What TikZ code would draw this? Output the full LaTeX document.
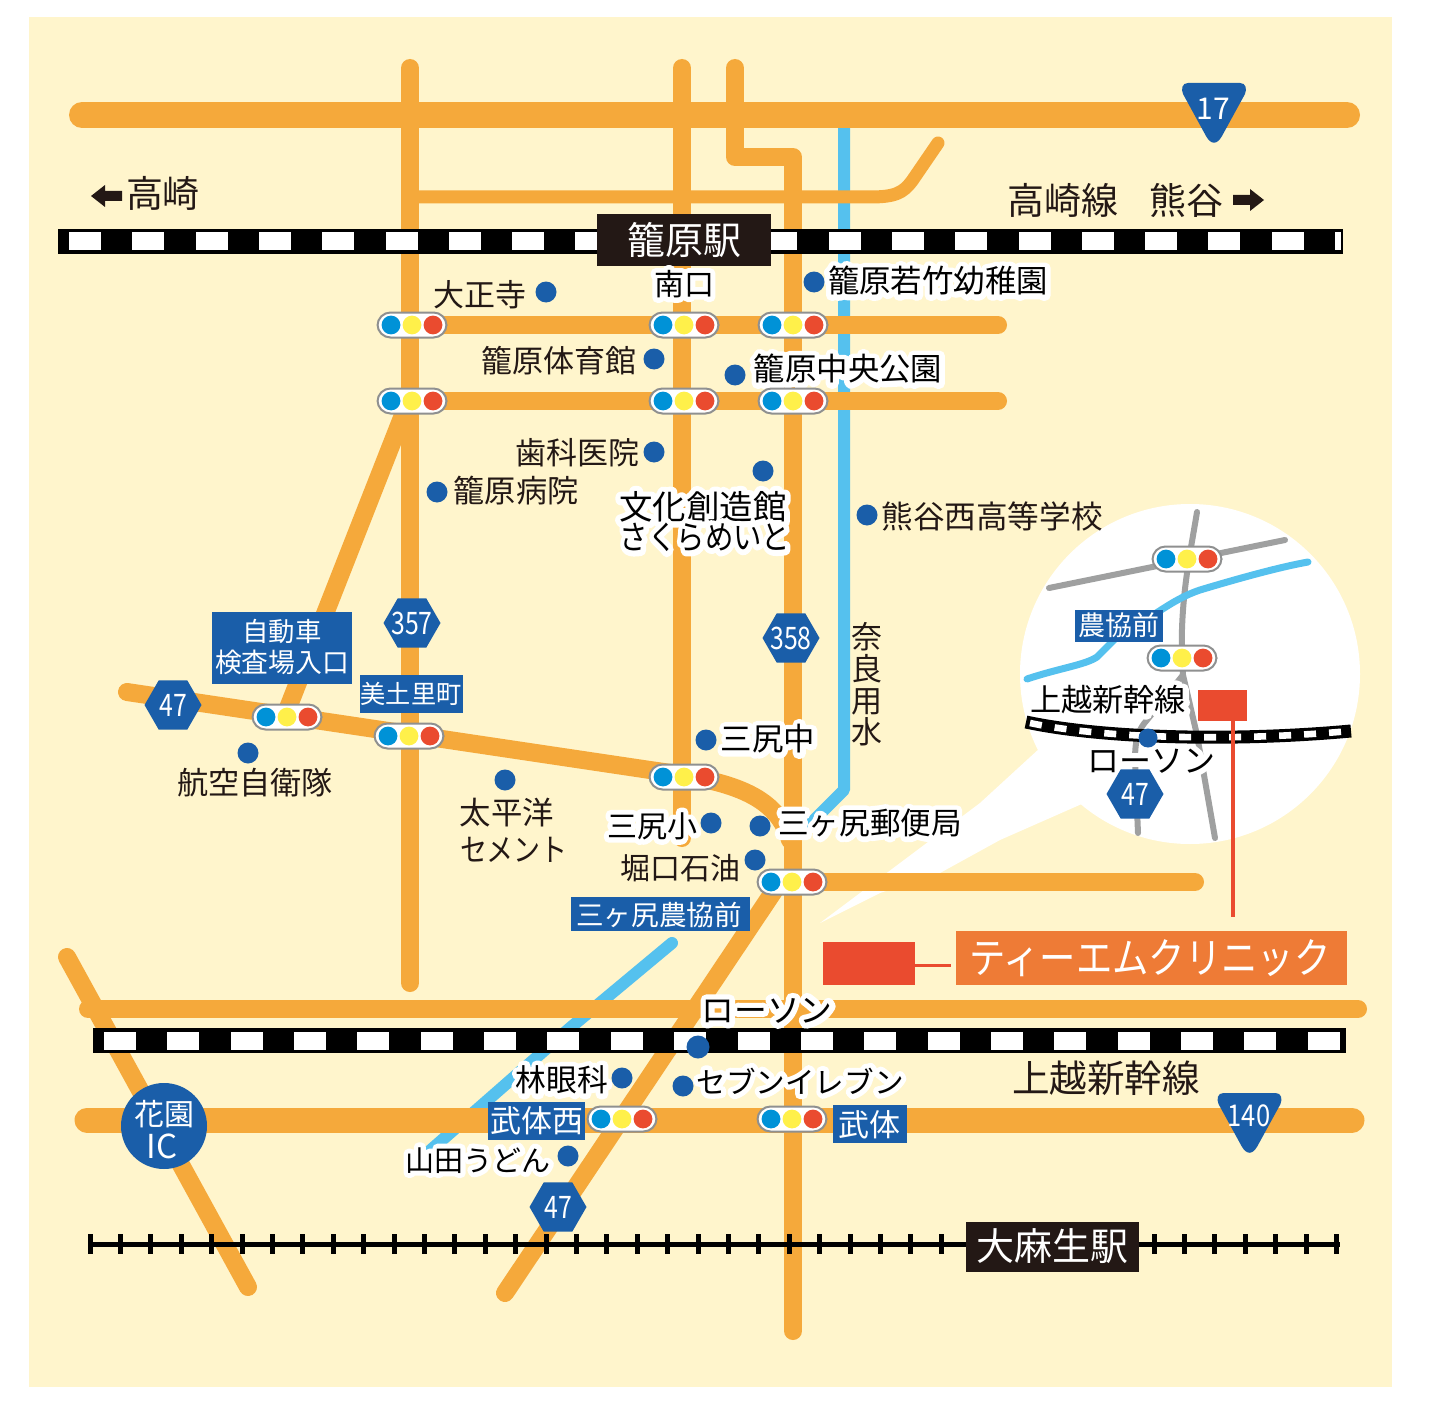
\documentclass[tikz,border=0pt]{standalone}
\usepackage{fontspec}
\usetikzlibrary{shapes.geometric}
\newfontfamily\jp{Noto Sans CJK JP}
\newfontfamily\jph[FakeBold=34]{Noto Sans CJK JP}
\definecolor{cream}{HTML}{FFF5CC}
\definecolor{road}{HTML}{F5A93B}
\definecolor{water}{HTML}{55C1EE}
\definecolor{ink}{HTML}{231815}
\definecolor{dotblue}{HTML}{1A5EA9}
\definecolor{lampb}{HTML}{0092D7}
\definecolor{lampy}{HTML}{FFF04A}
\definecolor{lampr}{HTML}{EA4B2F}
\definecolor{grayroad}{HTML}{9FA0A0}
\definecolor{clinic}{HTML}{EE7B36}
\newcommand\strutj{\rule[-.12em]{0pt}{1em}}
\newcommand\fs[1]{\fontsize{#1}{#1}\selectfont\jp}
% plain label: name, position, size in pt, text
\newcommand\LabP[4]{\node[lbl] (#1) at (#2) {\fs{#3}\strutj #4};}
% label with a white halo
\newcommand\LabH[4]{\node[lbl,text=black] (#1) at (#2) {\fs{#3}\strutj\special{pdf:code 1 j 1 J}\rlap{\color{white}\jph #4}#4};}
% white label on a coloured box
\newcommand\LabW[4]{\node[lbl,text=white] (#1) at (#2) {\fs{#3}\strutj #4};}
\newcommand\dotm[2]{\node[place] (#1) at (#2) {};}
\newcommand\light[2]{%
  \node[pill] (#1) at (#2) {};
  \node[lamp,fill=lampb] (#1b) at ([xshift=-10.5pt]#1) {};
  \node[lamp,fill=lampy] (#1y) at (#1) {};
  \node[lamp,fill=lampr] (#1r) at ([xshift=10.5pt]#1) {};}
\newcommand\hexm[3]{\node[hexa] (#1) at (#2) {};\node[lbl,text=white] at (#1) {\fs{15.5}\scalebox{.8}[1]{#3}};}
\newcommand\shield[2]{\fill[dotblue,shift={(#1,#2)}] (-26,0) -- (26,0) .. controls (32,0) and (33,6) .. (31,11) -- (8,53) .. controls (3,62) and (-3,62) .. (-8,53) -- (-31,11) .. controls (-33,6) and (-32,0) .. (-26,0) -- cycle;}
\tikzset{
  x=.5pt,y=-.5pt,
  lbl/.style={inner sep=0pt,outer sep=0pt,text=ink,anchor=center},
  place/.style={circle,fill=dotblue,minimum size=10.5pt,inner sep=0pt},
  pill/.style={rectangle,rounded corners=6.5pt,draw=grayroad!90!black,line width=1pt,fill=white,minimum width=34.5pt,minimum height=12.5pt,inner sep=0pt},
  lamp/.style={circle,minimum size=9.4pt,inner sep=0pt},
  hexa/.style={regular polygon,regular polygon sides=6,fill=dotblue,minimum size=28.5pt,inner sep=0pt},
  rd/.style={draw=road,line width=9pt,line cap=round,line join=round},
  wr/.style={draw=water,line width=6pt,line cap=round,line join=round},
  gr/.style={draw=grayroad,line width=3pt,line cap=round,line join=round},
  bluebox/.style={fill=dotblue},
  inkbox/.style={fill=ink},
}
\begin{document}
\begin{tikzpicture}
\useasboundingbox (0,0) rectangle (1442,1413);
\fill[white] (0,0) rectangle (1442,1413);
\fill[cream] (29,17) rectangle (1392,1387);
% inset bubble
\fill[white] (1190,674) circle (85pt);
\fill[white] (1040,748) -- (980,803) -- (820,923) -- (880,893) -- (940,873) -- (1000,840) -- (1084,803) -- cycle;
% water
\draw[wr] (844,128) -- (844,790) -- (808,826);
\draw[wr] (672,943) -- (570,1028) -- (425,1155);
% roads
\draw[rd] (410,68) -- (410,983);
\draw[rd] (682,68) -- (682,838);
\draw[rd] (735,68) -- (735,157) -- (793,157) -- (793,1331);
\draw[rd,line width=6.5pt] (415,197) -- (870,197) .. controls (895,197) and (903,193) .. (912,181) -- (938,143);
\draw[rd] (410,325) -- (998,325);
\draw[rd] (410,401) -- (998,401);
\draw[rd] (405,410) -- (288,708);
\draw[rd] (127,692) -- (650,770) .. controls (720,780) and (775,790) .. (790,840);
\draw[rd] (793,882) -- (1195,882);
\draw[rd] (780,882) -- (505,1293);
\draw[rd] (88,1009) -- (1358,1009);
\draw[rd] (67,957) -- (248,1287);
\draw[rd,line width=13pt] (82,115) -- (1347,115);
\draw[rd,line width=12.5pt] (87,1120) -- (1352,1120);
% top railway
\fill[black] (58,229) rectangle (1343,254);
\foreach \i in {0,...,20} \fill[white] ({69+63.3*\i},232.5) rectangle ({min(69+63.3*\i+32,1341)},250.5);
\fill[inkbox] (597,214) rectangle (771,266);
% bottom railway
\fill[black] (93,1028) rectangle (1346,1053);
\foreach \i in {0,...,19} \fill[white] ({104+63.35*\i},1032) rectangle +(32,18);
% thin railway
\draw[black,line width=2.5pt] (90,1244) -- (1340,1244);
\foreach \i in {0,...,41} \draw[black,line width=2.5pt] ({90+30.4*\i},1234) -- ({90+30.4*\i},1254);
\fill[inkbox] (966,1222) rectangle (1139,1272);
% clinic
\fill[lampr] (823,942) rectangle (915,985);
\draw[lampr,line width=1.5pt] (915,965) -- (951,965);
\fill[clinic] (956,931) rectangle (1347,985);
% inset map
\draw[gr] (1197,512) .. controls (1190,555) and (1180,600) .. (1182,660) -- (1183,675) -- (1197,735) -- (1215,838);
\draw[gr] (1049,588) -- (1285,540);
\draw[gr] (1183,675) -- (1147,720) .. controls (1138,730) and (1135,740) .. (1135,760) -- (1138,833);
\draw[water,line width=3.5pt,line cap=round,line join=round] (1027,679) .. controls (1060,668) and (1085,665) .. (1097,657) -- (1117,637) .. controls (1150,620) and (1170,600) .. (1200,590) .. controls (1240,578) and (1280,567) .. (1308,562);
% blue boxes
\fill[bluebox] (212,612) rectangle (352,684);
\fill[bluebox] (360,675) rectangle (463,713);
\fill[bluebox] (571,897) rectangle (750,931);
\fill[bluebox] (488,1102) rectangle (585,1140);
\fill[bluebox] (833,1105) rectangle (907,1143);
\fill[bluebox] (1075,610) rectangle (1163,642);
\node[circle,fill=dotblue,minimum size=43pt,inner sep=0pt] (ic) at (164,1126) {};
\shield{1214}{83}
\shield{1249.5}{1093}
% arrows
\fill[ink] (91,196) -- (105,185) -- (105,191) -- (122,191) -- (122,201) -- (105,201) -- (105,207) -- cycle;
\fill[ink] (1264,200) -- (1250,189) -- (1250,195) -- (1233,195) -- (1233,205) -- (1250,205) -- (1250,211) -- cycle;
% labels
\LabP{takasaki}{163,193}{18.5}{高崎}
\LabP{tline}{1063,200}{18.5}{高崎線}
\LabP{kumagaya}{1186,200}{18.5}{熊谷}
\LabW{kagohara}{684,240}{19}{籠原駅}
\LabH{minami}{684,284}{15}{南口}
\LabP{taisho}{480,295}{15.5}{大正寺}
\LabH{wakatake}{938,281}{15.7}{籠原若竹幼稚園}
\LabP{taiiku}{559,361}{15.5}{籠原体育館}
\LabH{chuo}{848,369}{15.7}{籠原中央公園}
\LabP{shika}{577,453}{15.5}{歯科医院}
\LabP{byoin}{516,491}{15.6}{籠原病院}
\LabH{bunka}{703,507}{16.7}{文化創造館}
\LabH{sakura}{705,537}{16.5}{\scalebox{.86}[1]{さくらめいと}}
\LabP{nishi}{992,516}{15.8}{熊谷西高等学校}
\LabP{na}{867,637}{15.5}{奈}
\LabP{ra}{867,669}{15.5}{良}
\LabP{yo}{867,701}{15.5}{用}
\LabP{su}{867,732}{15.5}{水}
\LabW{jido}{282,631}{13.2}{自動車}
\LabW{kensa}{282,662}{13.4}{検査場入口}
\LabW{midori}{411,694}{12.6}{美土里町}
\LabH{naka}{768,739}{15.7}{三尻中}
\LabP{koku}{255,783}{15.6}{航空自衛隊}
\LabP{taihei}{507,813}{15.7}{太平洋}
\LabP{cement}{514,850}{15.7}{\scalebox{.86}[1]{セメント}}
\LabH{sho}{652,826}{15}{三尻小}
\LabH{yubin}{870,823}{15.3}{三ヶ尻郵便局}
\LabP{horiguchi}{680,868}{15}{堀口石油}
\LabW{nokyo}{659,915}{13.8}{三ヶ尻農協前}
\LabH{lawson}{767,1010}{16.4}{ローソン}
\LabH{hayashi}{562,1080}{15.4}{林眼科}
\LabH{seven}{800,1082}{14.8}{セブンイレブン}
\LabP{joetsu}{1106,1078}{18.8}{上越新幹線}
\LabW{takeN}{537,1121}{15.5}{武体西}
\LabW{take}{869,1125}{15.5}{武体}
\LabH{yamada}{478,1160}{14.5}{山田うどん}
\LabW{oaso}{1052,1246}{19}{大麻生駅}
\LabW{hana}{164,1114}{15}{花園}
\LabW{icl}{162,1146}{16.5}{IC}
\LabW{s17}{1213,108}{15}{17}
\LabW{s140}{1249,1115}{15}{\scalebox{.85}[1]{140}}
\LabW{inok}{1119,625}{13.5}{農協前}
\LabH{ijoe}{1108,700}{15.6}{上越新幹線}
\LabH{ilaw}{1151,760}{16}{ローソン}
\node[lbl,text=white] (tm) at (1150,958) {\fs{21}\strutj\scalebox{.865}[1]{ティーエムクリニック}};
% inset railway and clinic marker
\draw[black,line width=6.5pt] (1026,722) .. controls (1100,738) and (1230,742) .. (1351,731);
\draw[white,line width=3.3pt,dash pattern=on 6pt off 6.5pt] (1030,723) .. controls (1100,738) and (1230,742) .. (1350,731);
\fill[lampr] (1198,690) rectangle (1247,721);
\draw[lampr,line width=1.8pt] (1233,721) -- (1233,917);
% traffic lights
\light{sa}{412,325}\light{sb}{684,325}\light{sc}{793,325}
\light{sd}{412,401}\light{se}{684,401}\light{sf}{793,401}
\light{sg}{287,717}\light{sh}{409,736}\light{si}{684,777}
\light{sj}{792,882}\light{sk}{622,1119}\light{sl}{792,1119}
\light{sm}{1187,559}\light{sn}{1182,658}
% route markers
\hexm{r357}{412,623}{357}
\hexm{r358}{791,638}{358}
\hexm{r47a}{173,705}{47}
\hexm{r47b}{558,1207}{47}
\hexm{r47c}{1135,794}{47}
% dots
\dotm{d1}{546,292}\dotm{d2}{814,282}\dotm{d3}{654,359}\dotm{d4}{735,375}
\dotm{d5}{654,452}\dotm{d6}{437,492}\dotm{d7}{763,471}\dotm{d8}{867,515}
\dotm{d9}{706,740}\dotm{d10}{248,753}\dotm{d11}{505,780}\dotm{d12}{711,823}
\dotm{d13}{760,826}\dotm{d14}{755,860}\dotm{d15}{622,1078}\dotm{d16}{683,1086}
\dotm{d17}{568,1156}\node[place,minimum size=11.5pt] (d18) at (698,1047) {};
\node[place,minimum size=9.5pt] (d19) at (1148,738) {};
\end{tikzpicture}
\end{document}
